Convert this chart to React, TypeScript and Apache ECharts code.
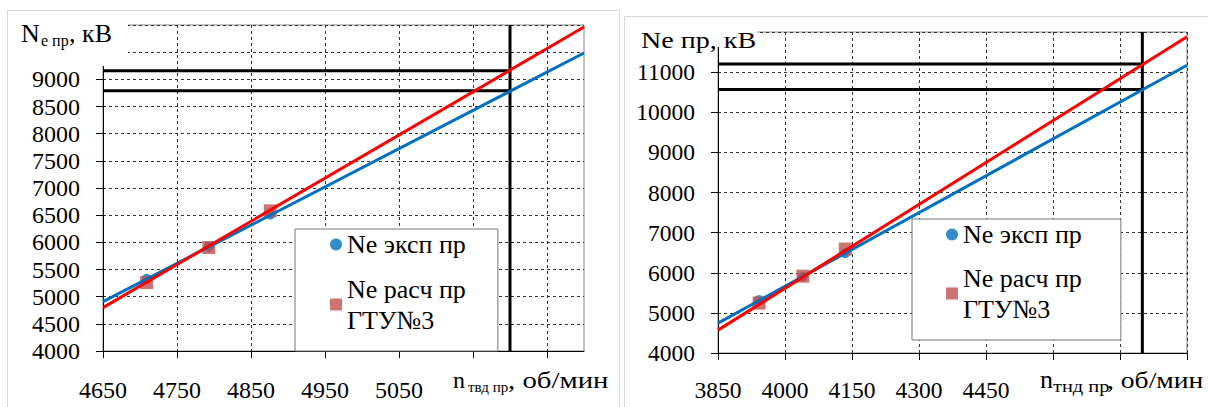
import React, { useEffect, useRef } from "react";
import * as echarts from "echarts";

// ---------- data ----------
// Left chart: N_e пр vs n_твд пр
const leftExp = [[4709, 5330], [4793, 5915], [4876, 6510]];
const leftCalc = [[4709, 5260], [4793, 5905], [4876, 6580]];
const leftExpTrend = [[4650, 4908], [5300, 9485]];
const leftCalcTrend = [[4650, 4798], [5300, 9963]];
const leftHLines = [9160, 8790];
const leftVLine = 5200;
const leftX = [4650, 5300, 100]; // min, max, step
const leftY = [4000, 10000, 500];
const leftXTicks = [4650, 4750, 4850, 4950, 5050, 5150, 5250];
const leftXLabelMax = 5050;
const leftYLabelMax = 9000;

// Right chart: Ne пр vs n_тнд пр
const rightExp = [[3942, 5320], [4040, 5900], [4135, 6490]];
const rightCalc = [[3942, 5245], [4040, 5915], [4135, 6590]];
const rightExpTrend = [[3850, 4743], [4900, 11170]];
const rightCalcTrend = [[3850, 4570], [4900, 11880]];
const rightHLines = [11200, 10570];
const rightVLine = 4800;
const rightX = [3850, 4900, 150];
const rightY = [4000, 12000, 1000];
const rightXTicks = [3850, 4000, 4150, 4300, 4450, 4600, 4750, 4900];
const rightXLabelMax = 4450;
const rightYLabelMax = 11000;

const expName = "Ne эксп пр";
const calcName = "Ne расч пр\nГТУ№3";

const FONT = "Liberation Serif";
const BLUE = "#0070C0";
const RED = "#FF0000";
const SQUARE = "#C0504D";

function axes(idx: number, xr: number[], yr: number[], xTicks: number[], xMax: number, yMax: number, fs: number, xMargin: number) {
  const split = { show: true, lineStyle: { color: "#333", width: 1, type: [3, 3] as any } };
  const x = {
    type: "value",
    gridIndex: idx,
    min: xr[0],
    max: xr[1],
    interval: xr[2],
    axisLine: { show: true, onZero: false, lineStyle: { color: "#000", width: 1 } },
    axisTick: { show: true, length: 7, lineStyle: { color: "#000" }, customValues: xTicks },
    axisLabel: {
      color: "#000",
      fontFamily: FONT,
      fontSize: fs,
      margin: xMargin,
      customValues: xTicks,
      formatter: (v: number) => (v <= xMax ? String(v) : ""),
    },
    splitLine: split,
  };
  const y = {
    type: "value",
    gridIndex: idx,
    min: yr[0],
    max: yr[1],
    interval: yr[2],
    axisLine: { show: true, onZero: false, lineStyle: { color: "#000", width: 1 } },
    axisTick: { show: true, length: 7, lineStyle: { color: "#000" } },
    axisLabel: {
      color: "#000",
      fontFamily: FONT,
      fontSize: fs,
      margin: 23,
      formatter: (v: number) => (v <= yMax ? String(v) : ""),
    },
    splitLine: split,
  };
  return { x, y };
}

function seriesFor(idx: number, exp: number[][], calc: number[][], expT: number[][], calcT: number[][], hl: number[], vl: number, xr: number[], yr: number[]) {
  const base = { xAxisIndex: idx, yAxisIndex: idx, silent: true };
  const black = (name: string, data: number[][]) => ({
    ...base,
    name,
    type: "line",
    data,
    showSymbol: false,
    symbol: "none",
    z: 2,
    lineStyle: { color: "#000", width: 3 },
  });
  return [
    black("ref" + idx + "a", [[xr[0], hl[0]], [vl, hl[0]]]),
    black("ref" + idx + "b", [[xr[0], hl[1]], [vl, hl[1]]]),
    black("ref" + idx + "c", [[vl, yr[0]], [vl, yr[1]]]),
    {
      ...base,
      name: expName,
      type: "scatter",
      data: exp,
      symbol: "circle",
      symbolSize: 10,
      itemStyle: { color: BLUE },
      z: 3,
    },
    {
      ...base,
      name: calcName,
      type: "scatter",
      data: calc,
      symbol: "rect",
      symbolSize: 13,
      itemStyle: { color: SQUARE },
      z: 3,
    },
    {
      ...base,
      name: "trendExp" + idx,
      type: "line",
      data: expT,
      showSymbol: false,
      symbol: "none",
      z: 4,
      lineStyle: { color: BLUE, width: 3 },
    },
    {
      ...base,
      name: "trendCalc" + idx,
      type: "line",
      data: calcT,
      showSymbol: false,
      symbol: "none",
      z: 5,
      lineStyle: { color: RED, width: 3 },
    },
  ];
}

function legendAt(left: number, top: number, padding: number[], gap: number) {
  return {
    left,
    top,
    orient: "vertical",
    padding,
    itemGap: gap,
    itemWidth: 12,
    itemHeight: 12,
    backgroundColor: "#fff",
    borderColor: "#777",
    borderWidth: 1,
    z: 10,
    selectedMode: false,
    textStyle: { color: "#000", fontFamily: FONT, fontSize: 26, lineHeight: 31 },
    data: [
      { name: expName, icon: "circle" },
      { name: calcName, icon: "rect", textStyle: { padding: [31, 0, 0, 0] } },
    ],
  };
}

function txt(text: string, x: number, y: number, fs: number, scaleX = 1) {
  return {
    type: "text",
    x,
    y,
    scaleX,
    z: 51,
    silent: true,
    style: { text, x: 0, y: 0, fill: "#000", fontFamily: FONT, fontSize: fs, verticalAlign: "middle", align: "left" },
  };
}

export default function App() {
  const ref = useRef<HTMLDivElement>(null);
  useEffect(() => {
    document.body.style.margin = "0";
    const chart = echarts.init(ref.current!, null, { renderer: "svg" });
    const a0 = axes(0, leftX, leftY, leftXTicks, leftXLabelMax, leftYLabelMax, 24, 27);
    const a1 = axes(1, rightX, rightY, rightXTicks, rightXLabelMax, rightYLabelMax, 23.5, 25);
    chart.setOption({
      animation: false,
      backgroundColor: "#fff",
      textStyle: { fontFamily: FONT },
      grid: [
        { left: 103, top: 25, width: 481, height: 326, show: true, borderColor: "#888", borderWidth: 1, backgroundColor: "transparent" },
        { left: 718, top: 32, width: 469, height: 321, show: true, borderColor: "#888", borderWidth: 1, backgroundColor: "transparent" },
      ],
      xAxis: [a0.x, a1.x],
      yAxis: [a0.y, a1.y],
      legend: [legendAt(295, 229, [0, 32, 0, 35], -2), legendAt(912, 219, [0, 39, 0, 34], -3)],
      series: [
        ...seriesFor(0, leftExp, leftCalc, leftExpTrend, leftCalcTrend, leftHLines, leftVLine, leftX, leftY),
        ...seriesFor(1, rightExp, rightCalc, rightExpTrend, rightCalcTrend, rightHLines, rightVLine, rightX, rightY),
      ],
      graphic: [
        { type: "rect", z: 0, silent: true, shape: { x: 7.5, y: 10.5, width: 612, height: 420 }, style: { fill: "none", stroke: "#d9d9d9", lineWidth: 1 } },
        { type: "rect", z: 0, silent: true, shape: { x: 624.5, y: 16.5, width: 620, height: 420 }, style: { fill: "none", stroke: "#d9d9d9", lineWidth: 1 } },
        // title cover boxes
        { type: "rect", z: 50, silent: true, shape: { x: 12, y: 14, width: 116, height: 52 }, style: { fill: "#fff" } },
        { type: "rect", z: 50, silent: true, shape: { x: 630, y: 20, width: 127, height: 27 }, style: { fill: "#fff" } },
        // left y title
        txt("N", 21, 33, 26),
        txt("е пр", 41, 40.6, 16),
        txt(", кВ", 69, 33, 26),
        // left x title
        txt("n", 453, 380, 24),
        txt("твд пр", 468, 387, 15),
        txt(", об/мин", 508, 380, 24, 1.2),
        // right y title
        txt("Ne пр, кВ", 641, 40, 24, 1.17),
        // right x title
        txt("n", 1040, 379, 26),
        txt("тнд пр", 1053, 386, 17, 1.2),
        txt(", об/мин", 1107, 380, 24, 1.15),
      ],
    });
    return () => chart.dispose();
  }, []);
  return <div ref={ref} style={{ width: 1208, height: 407 }} />;
}
